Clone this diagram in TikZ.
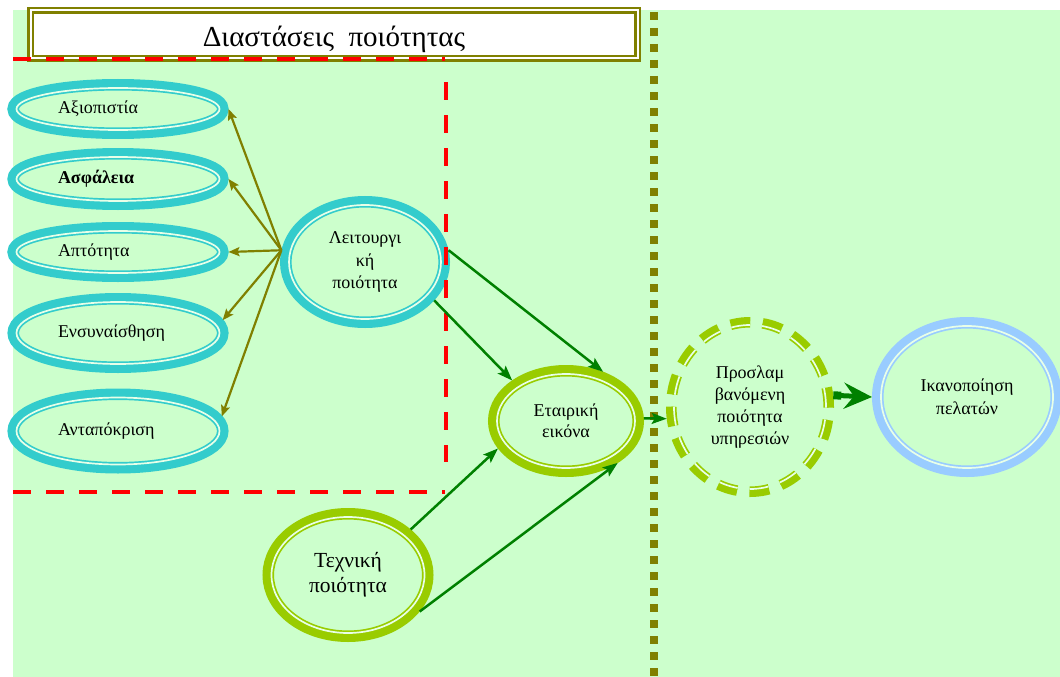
\documentclass[tikz,border=0pt]{standalone}
\usepackage{fontspec}
\setmainfont{Liberation Serif}
\usetikzlibrary{shapes.geometric,arrows.meta}

\definecolor{bg}{HTML}{CCFFCC}
\definecolor{ringteal}{HTML}{33CCCC}
\definecolor{ringlime}{HTML}{99CC00}
\definecolor{ringblue}{HTML}{99CCFF}
\definecolor{olivefr}{HTML}{808000}
\definecolor{arrgreen}{HTML}{008000}

\begin{document}
\begin{tikzpicture}[x=1pt,y=-1pt,
	ring/.style={shape=ellipse,fill=bg,draw=#1,line width=1.7pt,double=white!55!bg,double distance=1.7pt,
		preaction={draw=#1,line width=18pt},inner sep=0pt,outer sep=9pt},
	dashring/.style={shape=ellipse,fill=bg,draw=#1,line width=1.7pt,double=white!55!bg,double distance=1.7pt,
		dash pattern=on 19pt off 12pt,preaction={draw=#1,line width=16pt},inner sep=0pt,outer sep=8pt},
	leftbox/.style={text width=120pt,align=left,font=\fontsize{18}{22}\selectfont},
	midbox/.style={align=center,font=\fontsize{18}{22.5}\selectfont},
	olivearrow/.style={draw=olivefr,line width=2.2pt,-{Stealth[length=11pt,width=9pt,inset=2pt]}},
	greenarrow/.style={draw=arrgreen,line width=2.5pt,-{Stealth[length=15pt,width=11pt,inset=3pt]}},
	bigarrow/.style={draw=arrgreen,line width=5pt,line cap=round,
		{Square[length=8pt,width=8pt]}-{Stealth[length=28pt,width=26pt,inset=10pt]}},
	reddash/.style={draw=red,line width=4pt,dash pattern=on 18pt off 15pt}]

	\useasboundingbox (0,0) rectangle (1060,677);
	\clip (0,0) rectangle (1060,677);
	\fill[bg] (13,10) rectangle (1060,677);

	% title
	\node[draw=olivefr,line width=2.6pt,double=white,double distance=2pt,fill=white,
		minimum width=607pt,minimum height=48pt,text height=25pt,text depth=0pt,
		font=\fontsize{29}{32}\selectfont] (title) at (334,34.5) {Διαστάσεις\ \ ποιότητας};

	% dividing line
	\draw[olivefr,line width=8pt,dash pattern=on 8pt off 8pt] (654,12) -- (654,677);

	% dimensions
	\node[ring=ringteal,leftbox,minimum width=203pt,minimum height=42pt] (axi) at (118,109) {Αξιοπιστία};
	\node[ring=ringteal,leftbox,minimum width=203pt,minimum height=44pt] (asf) at (118,179) {\textbf{Ασφάλεια}};
	\node[ring=ringteal,leftbox,minimum width=203pt,minimum height=42pt] (apt) at (118,252) {Απτότητα};
	\node[ring=ringteal,leftbox,minimum width=203pt,minimum height=62pt] (ens) at (118,333) {Ενσυναίσθηση};
	\node[ring=ringteal,leftbox,minimum width=203pt,minimum height=67pt] (ant) at (118,431) {Ανταπόκριση};

	\node[ring=ringteal,midbox,minimum width=152pt,minimum height=114pt] (lit) at (365,262) {Λειτουργι\\κή\\ποιότητα};
	\node[ring=ringlime,midbox,minimum width=138pt,minimum height=94pt,font=\fontsize{18}{21}\selectfont] (eta) at (566,421) {Εταιρική\\εικόνα};
	\node[ring=ringlime,midbox,minimum width=153pt,minimum height=116pt,font=\fontsize{21.5}{25}\selectfont] (tex) at (348,575) {Τεχνική\\ποιότητα};
	\node[dashring=ringlime,midbox,minimum width=152pt,minimum height=164pt,font=\fontsize{18}{22}\selectfont] (pro) at (750,407) {Προσλαμ\\βανόμενη\\ποιότητα\\υπηρεσιών};
	\node[ring=ringblue,midbox,minimum width=172pt,minimum height=142pt,font=\fontsize{18}{23}\selectfont] (sat) at (967,397) {Ικανοποίηση\\πελατών};

	% red frame
	\draw[reddash] (13,59) -- (445,59);
	\draw[reddash] (446,82) -- (446,462);
	\draw[reddash] (13,492) -- (445,492);

	% arrows
	\path (lit.172) edge[olivearrow] (axi.east);
	\path (lit.172) edge[olivearrow] (asf.east);
	\path (lit.172) edge[olivearrow] (apt.east);
	\path (lit.172) edge[olivearrow] (ens.7);
	\path (lit.172) edge[olivearrow] (ant.8);

	\path (lit.8) edge[greenarrow] (eta.53);
	\path (lit.331) edge[greenarrow] (eta.143);
	\path (tex.36) edge[greenarrow] (eta.202);
	\path (tex.333) edge[greenarrow] (eta.321);
	\path (eta.2) edge[greenarrow] (pro.188);
	\draw[bigarrow] (pro.8) -- (sat.west);

\end{tikzpicture}
\end{document}
